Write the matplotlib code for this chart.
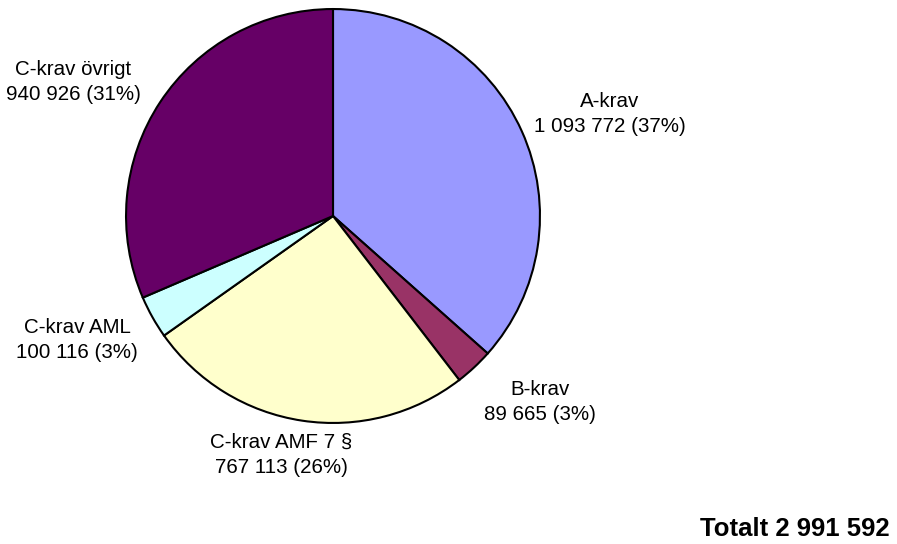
import matplotlib
matplotlib.use("Agg")
import matplotlib.pyplot as plt

categories = ["A-krav", "B-krav", "C-krav AMF 7 §", "C-krav AML", "C-krav övrigt"]
values = [1093772, 89665, 767113, 100116, 940926]
colors = ["#9999FF", "#993366", "#FFFFCC", "#CCFFFF", "#660066"]
value_labels = ["1 093 772 (37%)", "89 665 (3%)", "767 113 (26%)", "100 116 (3%)", "940 926 (31%)"]
total_label = "Totalt 2 991 592"

# label anchor positions in pixel coords (centre of two-line label)
label_px = [(610, 114), (540, 402), (281, 455), (77, 340), (73, 82)]

plt.rcParams['font.family'] = ['Liberation Sans', 'DejaVu Sans']
W, H = 897, 544
fig = plt.figure(figsize=(W / 100, H / 100), dpi=100)
cx, cy, r = 333, 216, 208
ax = fig.add_axes([(cx - r) / W, (H - cy - r) / H, 2 * r / W, 2 * r / H])
ax.pie(values, colors=colors, startangle=90, counterclock=False,
       wedgeprops=dict(edgecolor="black", linewidth=1.5), radius=1)
ax.set_xlim(-1.005, 1.005)
ax.set_ylim(-1.005, 1.005)
ax.set_axis_off()

for cat, vl, (px, py) in zip(categories, value_labels, label_px):
    fig.text(px / W, 1 - py / H, cat + "\n" + vl, ha="center", va="center",
             fontsize=14.8, linespacing=1.4)

fig.text(890 / W, 1 - 529 / H, total_label, ha="right", va="center",
         fontsize=18.5, fontweight="bold")

fig.savefig("out.png", dpi=100)
